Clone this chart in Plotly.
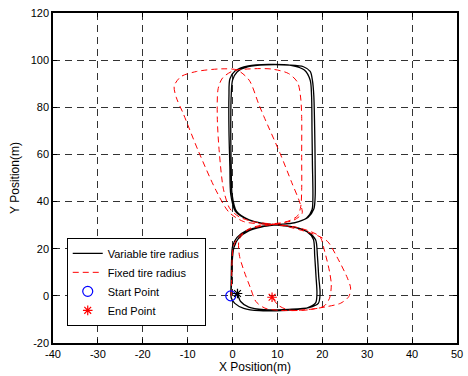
import plotly.graph_objects as go

# Variable tire radius trajectory (two laps)
var_x = [-0.4, -0.3, -0.2, 0.0, 1.0, 3.2, 6.3, 10.0, 13.8, 16.5, 17.7, 17.9, 17.8, 17.7, 17.6, 17.3, 16.0, 13.0, 8.0, 3.5, 0.6, -0.6, -0.8, -0.8, -0.6, -0.4, 0.6, 3.4, 6.5, 10.0, 13.8, 16.6, 18.0, 18.3, 18.6, 18.8, 18.5, 16.5, 12.0, 6.0, 2.5, 0.5, -0.3,
         -0.2, -0.1, 0.3, 1.4, 3.6, 6.6, 10.0, 13.9, 16.8, 18.1, 18.4, 18.4, 18.3, 18.1, 17.8, 17.3, 15.8, 12.5, 7.5, 3.5, 1.0, 0.0, -0.3, -0.4, -0.3, -0.1, 0.9, 3.7, 6.7, 10.0, 13.9, 16.9, 18.5, 18.9, 19.2, 19.5, 19.1, 17.0, 12.5, 7.0, 3.6, 1.8, 1.1]
var_y = [0, 8, 16, 21, 24.8, 27.8, 29.4, 30.2, 31.0, 33.0, 36.5, 42, 55, 70, 85, 91.5, 95.8, 97.8, 98.2, 97.6, 95.5, 92, 85, 70, 55, 43, 36, 32.4, 30.8, 30.0, 29.2, 27.2, 24.0, 17, 8, 1, -3, -5.2, -6.1, -6.3, -5.3, -3.2, -0.8,
         6, 14, 20.5, 24.6, 27.6, 29.3, 30.2, 31.1, 33.2, 36.8, 42, 55, 70, 85, 91.3, 95.2, 97.2, 97.9, 98.0, 97.2, 95.0, 91.5, 85, 70, 55, 43, 35.8, 32.2, 30.7, 30.0, 29.1, 27.0, 23.8, 17, 8, 1, -3.2, -5.0, -5.7, -5.9, -4.8, -2.4, 1.0]

# Fixed tire radius trajectory (two laps, drifting)
fix_x = [-0.3, -0.2, -0.1, 0.2, 1.3, 3.5, 6.5, 10.0, 12.8, 14.5, 15.2, 15.4, 15.4, 15.4, 15.2, 14.5, 12.5, 8.8, 4.0, 0.2, -2.2, -3.2, -3.4, -3.0, -2.0, -0.6, 1.5, 5.0, 10.0, 14.5, 17.5, 19.5, 20.5, 21.6, 22.0, 21.6, 20.4, 17.0, 10.8, 7.2, 5.2, 4.0, 2.6, 1.5, 1.5, 3.5, 7.0, 10.5, 13.5, 15.5, 14.9, 13.2, 10.6, 7.0, 5.8, 3.7, 1.0, -2.5, -8.0, -11.5, -13.0, -12.5, -11.0, -7.7, -3.7, -0.8, 2.5, 6.5, 10.5, 15.0, 19.0, 21.2, 23.4, 25.6, 26.3, 25.9, 24.1, 21.2, 16.8, 12.5, 10.2, 8.8]
fix_y = [0, 8, 16, 21, 25, 28, 29.6, 30.5, 32.0, 34.0, 38, 45, 60, 76, 83.5, 90.5, 94.3, 96.2, 96.3, 95.5, 92.5, 88, 76, 62, 45, 37, 33.5, 31.3, 30.3, 29.0, 27.2, 25.0, 19, 10.3, 4.7, -1, -4.3, -5.9, -6.2, -5.2, -2.4, 3.3, 10.3, 17.4, 24.0, 28.3, 30.2, 30.9, 32.0, 35.0, 40.0, 48.0, 60.4, 76.0, 81.5, 91.5, 95.8, 96.3, 95.2, 93.0, 89.0, 84.0, 77.4, 61.8, 44.8, 35.5, 31.5, 30.5, 30.0, 28.0, 25.5, 23, 16, 7.5, 3.3, -0.3, -3.1, -4.5, -5.8, -6.0, -4.0, -0.6]

start_x, start_y = [-0.4], [0.0]
end_var_x, end_var_y = [1.1], [1.0]
end_fix_x, end_fix_y = [8.8], [-0.6]

x_ticks = [-40, -30, -20, -10, 0, 10, 20, 30, 40, 50]
y_ticks = [-20, 0, 20, 40, 60, 80, 100, 120]

FONT = "Arial, Liberation Sans, sans-serif"

fig = go.Figure()
fig.add_trace(go.Scatter(x=var_x, y=var_y, mode="lines", name="Variable tire radius",
                         line=dict(color="black", width=1.3, shape="spline", smoothing=0.8)))
fig.add_trace(go.Scatter(x=fix_x, y=fix_y, mode="lines", name="Fixed tire radius",
                         line=dict(color="red", width=1, dash="6px,4px", shape="spline", smoothing=0.8)))
fig.add_trace(go.Scatter(x=start_x, y=start_y, mode="markers", name="Start Point",
                         marker=dict(symbol="circle-open", size=10, color="blue", line=dict(width=1.2, color="blue"))))
fig.add_trace(go.Scatter(x=end_fix_x, y=end_fix_y, mode="markers", name="End Point",
                         marker=dict(symbol="asterisk-open", size=8, color="red", line=dict(width=1.2, color="red"))))
fig.add_trace(go.Scatter(x=end_var_x, y=end_var_y, mode="markers", showlegend=False,
                         marker=dict(symbol="asterisk-open", size=8, color="black", line=dict(width=1.2, color="black"))))

axis_common = dict(showline=True, linecolor="black", linewidth=1.5, mirror="ticks",
                   ticks="inside", ticklen=4, tickcolor="black",
                   showgrid=True, gridcolor="#333", gridwidth=1, griddash="7px,5px",
                   zeroline=False, tickfont=dict(family=FONT, size=11, color="black"))

fig.update_xaxes(range=[-40, 50], tickvals=x_ticks, ticktext=[str(v) for v in x_ticks],
                 title=dict(text="X Position(m)", font=dict(family=FONT, size=12, color="black"), standoff=2),
                 **axis_common)
fig.update_yaxes(range=[-20, 120], tickvals=y_ticks, ticktext=[str(v) for v in y_ticks],
                 title=dict(text="Y Position(m)", font=dict(family=FONT, size=12, color="black"), standoff=8),
                 **axis_common)

fig.update_layout(
    width=468, height=376,
    margin=dict(l=53, r=5, t=13, b=33),
    paper_bgcolor="white", plot_bgcolor="white",
    font=dict(family=FONT, size=11, color="black"),
    legend=dict(x=0.034, y=0.052, xanchor="left", yanchor="bottom",
                bgcolor="white", bordercolor="black", borderwidth=1,
                font=dict(family=FONT, size=11, color="black"),
                itemwidth=30, tracegroupgap=0),
)

fig.write_html("out.html", config={"displayModeBar": False},
               post_script="document.body.style.margin='0px';document.body.style.overflow='hidden';")
